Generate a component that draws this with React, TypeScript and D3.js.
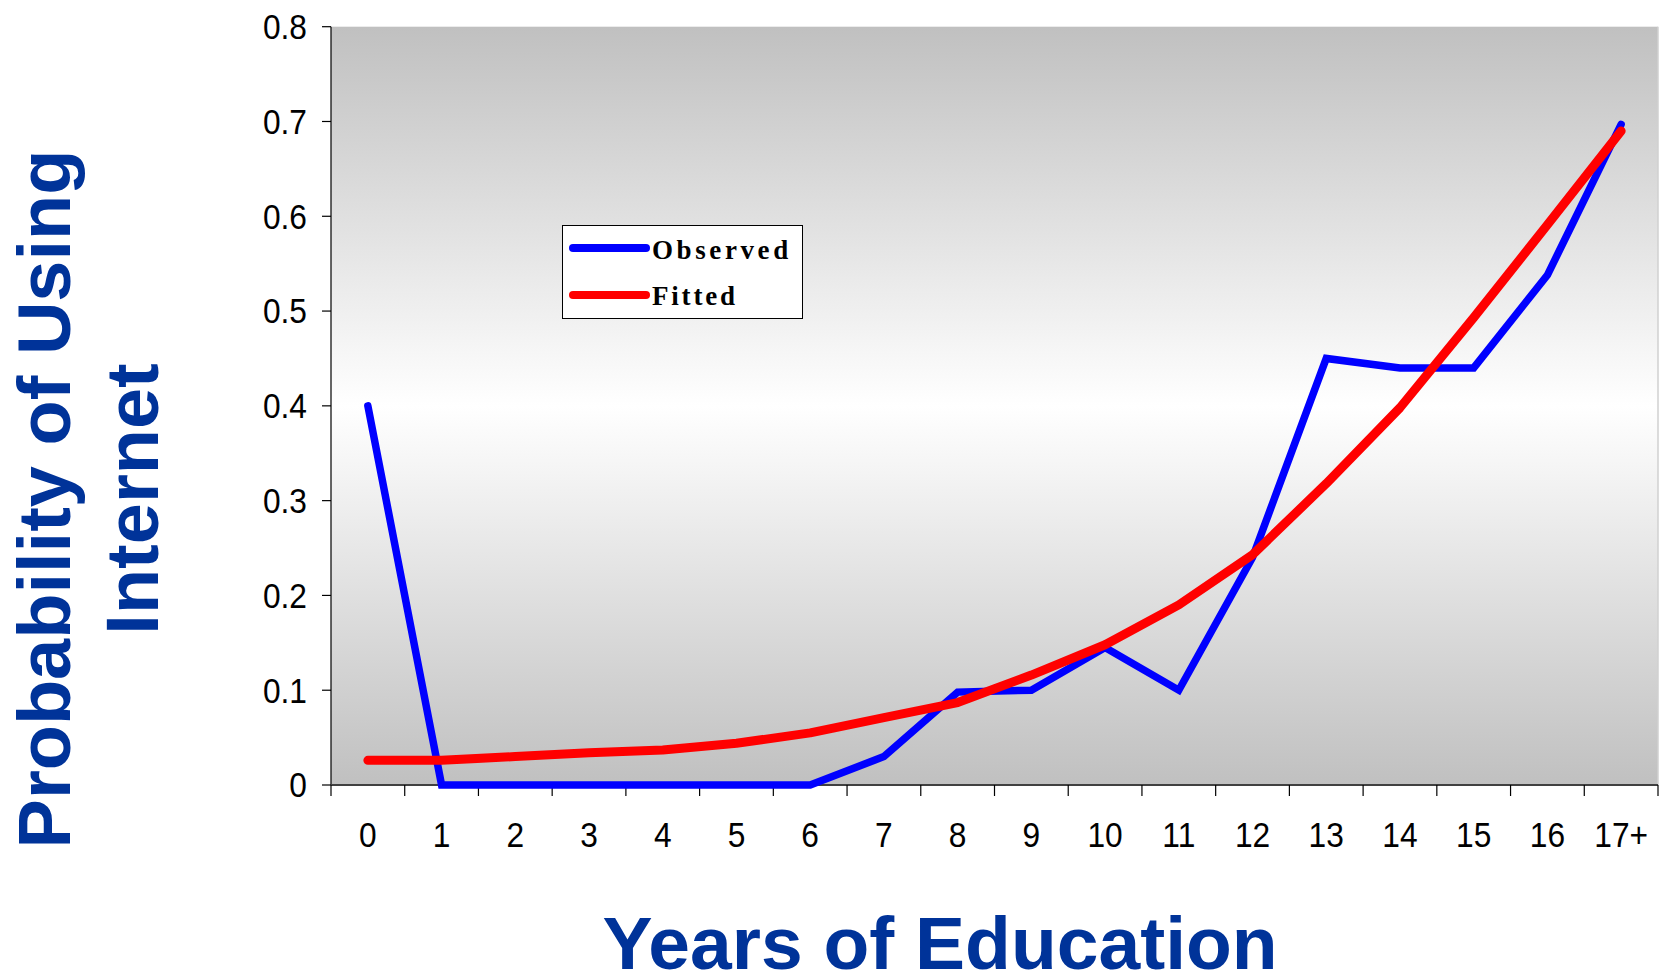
import React from "react";
import * as d3 from "d3";

const categories = ["0","1","2","3","4","5","6","7","8","9","10","11","12","13","14","15","16","17+"];
const observed = [0.40,0,0,0,0,0,0,0.03,0.098,0.10,0.145,0.10,0.24,0.45,0.44,0.44,0.538,0.697];
const fitted = [0.026,0.026,0.030,0.034,0.037,0.044,0.055,0.071,0.087,0.116,0.148,0.19,0.243,0.318,0.398,0.493,0.591,0.69];
const yTicks = [0,0.1,0.2,0.3,0.4,0.5,0.6,0.7,0.8];
const seriesNames = ["Observed","Fitted"];
const seriesColors = ["#0000ff","#ff0000"];

const W = 1664, H = 978;
const L = 331, R = 1658, T = 26.7, B = 785;
const titleColor = "#003399";
const tickFont = "'Liberation Sans', Arial, sans-serif";

export default function App() {
  const x = d3.scaleBand<string>().domain(categories).range([L, R]).padding(0);
  const y = d3.scaleLinear().domain([0, 0.8]).range([B, T]);
  const cx = (c: string) => (x(c) as number) + x.bandwidth() / 2;
  const line = d3.line<number>().x((_, i) => cx(categories[i])).y((d) => y(d));
  const bounds = categories.map((c) => x(c) as number).concat([R]);

  return (
    <svg width={W} height={H} style={{ position: "absolute", left: 0, top: 0, display: "block" }}>
      <defs>
        <linearGradient id="bg" x1="0" y1="0" x2="0" y2="1">
          <stop offset="0" stopColor="#c0c0c0" />
          <stop offset="0.5" stopColor="#ffffff" />
          <stop offset="1" stopColor="#c0c0c0" />
        </linearGradient>
      </defs>
      <rect x={0} y={0} width={W} height={H} fill="#ffffff" />
      <rect x={L} y={T} width={R - L} height={B - T} fill="url(#bg)" />
      <line x1={R} y1={T} x2={R} y2={B} stroke="#d0d0d0" strokeWidth={1.5} />
      {/* y axis */}
      <line x1={L} y1={T} x2={L} y2={B} stroke="#000" strokeWidth={1.2} />
      {yTicks.map((t) => (
        <g key={t}>
          <line x1={L - 9} x2={L} y1={y(t)} y2={y(t)} stroke="#000" strokeWidth={1.2} />
          <g transform={`translate(307,${y(t)}) scale(0.92,1)`}>
            <text x={0} y={0} dy="0.36em" textAnchor="end" fontFamily={tickFont} fontSize={34.5} fill="#000">
              {t === 0 ? "0" : t.toFixed(1)}
            </text>
          </g>
        </g>
      ))}
      {/* x axis */}
      <line x1={L} y1={B} x2={R} y2={B} stroke="#404040" strokeWidth={1.8} />
      {bounds.map((b, i) => (
        <line key={i} x1={b} x2={b} y1={B} y2={B + 11} stroke="#000" strokeWidth={1.2} />
      ))}
      {categories.map((c) => (
        <g key={c} transform={`translate(${cx(c)},847) scale(0.92,1)`}>
          <text x={0} y={0} textAnchor="middle" fontFamily={tickFont} fontSize={34.5} fill="#000">
            {c}
          </text>
        </g>
      ))}
      {/* series */}
      <path d={line(observed) as string} fill="none" stroke={seriesColors[0]} strokeWidth={7.5} strokeLinejoin="miter" strokeLinecap="round" />
      <path d={line(fitted) as string} fill="none" stroke={seriesColors[1]} strokeWidth={9} strokeLinejoin="round" strokeLinecap="round" />
      {/* legend */}
      <rect x={562.5} y={225.5} width={240} height={93} fill="#ffffff" stroke="#000" strokeWidth={1} />
      {seriesNames.map((n, i) => (
        <g key={n}>
          <line x1={573} x2={646} y1={248 + i * 47} y2={248 + i * 47} stroke={seriesColors[i]} strokeWidth={8} strokeLinecap="round" />
          <text x={652} y={259 + i * 46} fontFamily="'Liberation Serif', 'Times New Roman', serif" fontWeight="bold" fontSize={27} letterSpacing={i === 0 ? 3.6 : 2.8} fill="#000">
            {n}
          </text>
        </g>
      ))}
      {/* titles */}
      <text transform="translate(70,499) rotate(-90)" textAnchor="middle" fontFamily="'Liberation Sans', Arial, sans-serif" fontWeight="bold" fontSize={74} fill={titleColor}>
        Probability of Using
      </text>
      <text transform="translate(158,499) rotate(-90)" textAnchor="middle" fontFamily="'Liberation Sans', Arial, sans-serif" fontWeight="bold" fontSize={74} fill={titleColor}>
        Internet
      </text>
      <text x={940} y={969} textAnchor="middle" fontFamily="'Liberation Sans', Arial, sans-serif" fontWeight="bold" fontSize={75} fill={titleColor}>
        Years of Education
      </text>
    </svg>
  );
}
